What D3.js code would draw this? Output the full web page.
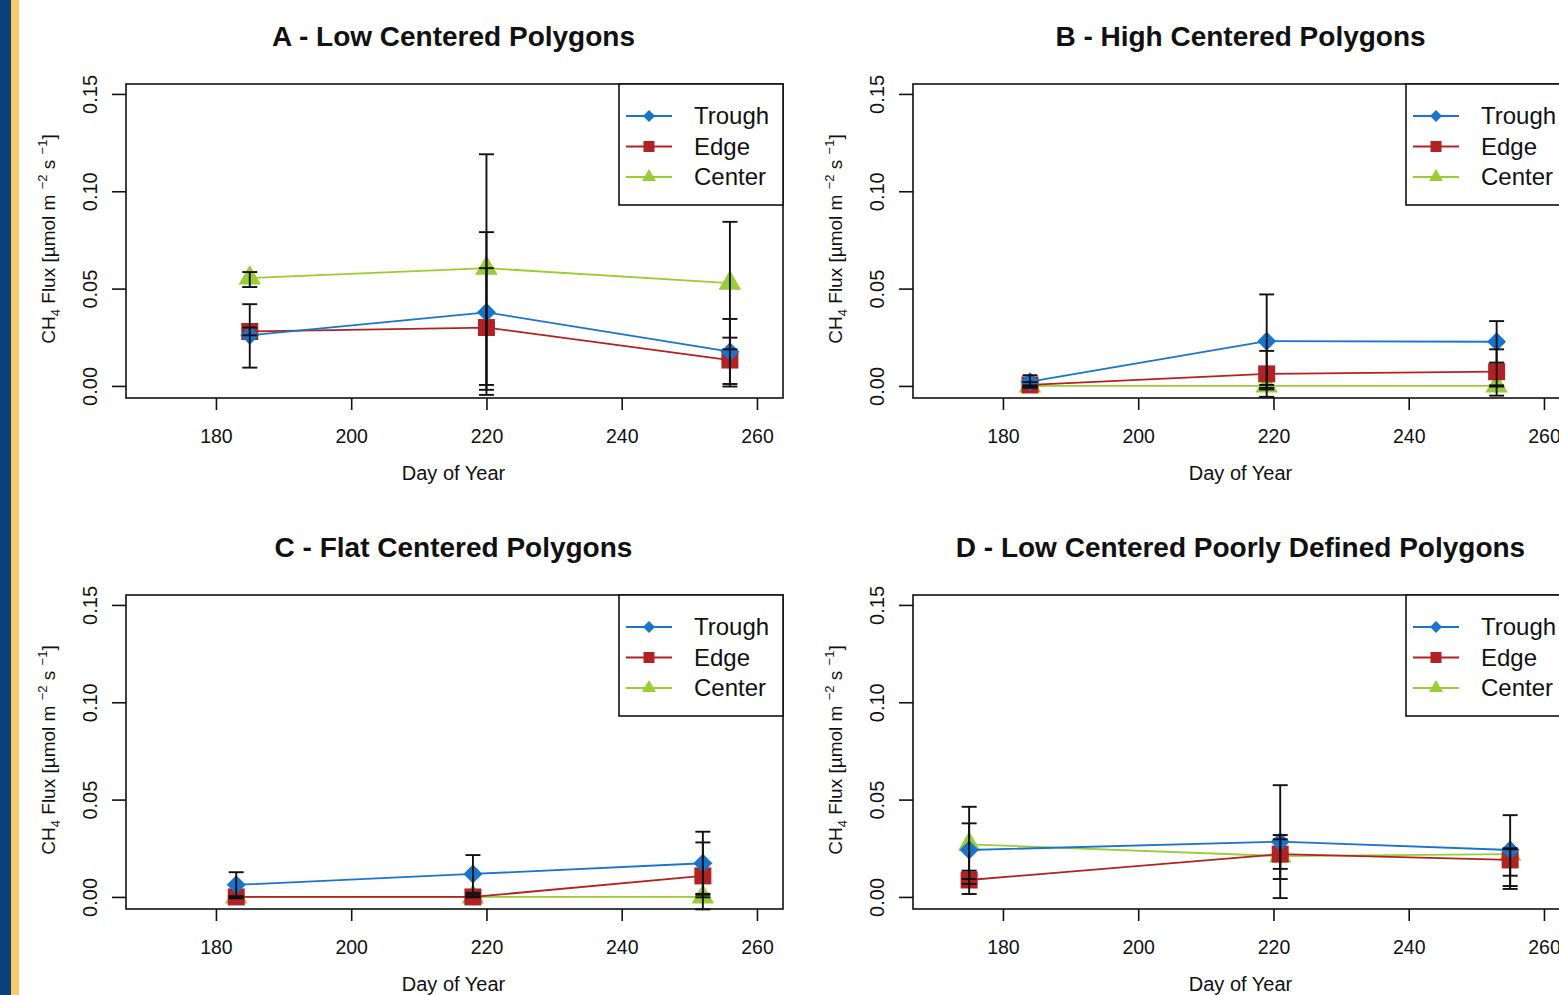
<!DOCTYPE html>
<html lang="en">
<head>
<meta charset="UTF-8">
<title>CH4 Flux by polygon type</title>
<script src="https://cdn.jsdelivr.net/npm/d3@7/dist/d3.min.js"></script>
<style>
  body { margin: 0; background: #fff; }
  svg { display: block; }
  text { font-family: "Liberation Sans", Arial, sans-serif; fill: #111; }
</style>
</head>
<body>
<script>
// ---- data ----
var panelTitles = ["A - Low Centered Polygons", "B - High Centered Polygons",
                   "C - Flat Centered Polygons", "D - Low Centered Poorly Defined Polygons"];
var seriesNames = ["Trough", "Edge", "Center"];
var days = [[185, 220, 256], [184, 219, 253], [183, 218, 252], [175, 221, 255]];

var trough   = [[0.026, 0.0378, 0.0176], [0.0022, 0.023, 0.0227], [0.0062, 0.0118, 0.0173], [0.0241, 0.0284, 0.0241]];
var troughLo = [[0.0094, -0.002, -0.0003], [-0.0005, -0.001, 0.012], [-0.0007, 0.0021, 0.0011], [0.0092, -0.0006, 0.0056]];
var troughHi = [[0.042, 0.079, 0.0344], [0.0055, 0.047, 0.0333], [0.0127, 0.0215, 0.0335], [0.0378, 0.0574, 0.042]];

var edge   = [[0.028, 0.030, 0.0133], [0.0005, 0.0062, 0.0073], [0.0, 0.0, 0.0108], [0.0087, 0.022, 0.019]];
var edgeLo = [[0.026, 0.0005, 0.001], [-0.001, -0.0056, -0.005], [-0.0003, 0.0, -0.0064], [0.0015, 0.0092, 0.0109]];
var edgeHi = [[0.030, 0.0605, 0.0248], [0.002, 0.018, 0.0188], [0.0003, 0.0012, 0.028], [0.0135, 0.0318, 0.025]];

var center   = [[0.0554, 0.0605, 0.0528], [0.0, 0.0, 0.0], [0.0, 0.0, 0.0], [0.027, 0.021, 0.022]];
var centerLo = [[0.0508, -0.0046, 0.0188], [-0.0003, -0.0018, -0.0003], [-0.0002, -0.0002, -0.0002], [0.0067, 0.0144, 0.0041]];
var centerHi = [[0.0585, 0.119, 0.0843], [0.0003, 0.0005, 0.0003], [0.0002, 0.0002, 0.0016], [0.0463, 0.0296, 0.0245]];

var xTicks = [180, 200, 220, 240, 260];
var yTicks = [0, 0.05, 0.10, 0.15];
var yTickLabels = ["0.00", "0.05", "0.10", "0.15"];

var colors = {Trough: "#1874cd", Edge: "#b22222", Center: "#9acd32"};
var shapes = {Trough: "diamond", Edge: "square", Center: "triangle"};

// ---- layout ----
var width = 1559, height = 995;
var origins = [[0, 0], [787, 0], [0, 511], [787, 511]];
var box = {left: 126, right: 783, top: 84, bottom: 398};

var svg = d3.select("body").append("svg").attr("width", width).attr("height", height);
svg.append("rect").attr("width", width).attr("height", height).attr("fill", "#fff");

// side strip
svg.append("rect").attr("x", 0).attr("y", 0).attr("width", 11).attr("height", height).attr("fill", "#07417e");
svg.append("rect").attr("x", 11).attr("y", 0).attr("width", 8).attr("height", height).attr("fill", "#fdc962");

function marker(shape, cx, cy, s) {
  if (shape == "square") {
    return "M" + (cx - s) + "," + (cy - s) + "h" + 2 * s + "v" + 2 * s + "h" + (-2 * s) + "Z";
  }
  if (shape == "diamond") {
    return "M" + cx + "," + (cy - s) + "L" + (cx + s) + "," + cy + "L" + cx + "," + (cy + s) + "L" + (cx - s) + "," + cy + "Z";
  }
  // R style triangle, centroid on the point
  var xc = s * Math.sqrt(3) / 2;
  return "M" + cx + "," + (cy - s) + "L" + (cx + xc) + "," + (cy + s / 2) + "L" + (cx - xc) + "," + (cy + s / 2) + "Z";
}
var markerSize = {square: 8.5, diamond: 9.5, triangle: 13};
var legendSize = {square: 5.5, diamond: 6, triangle: 8};

panelTitles.forEach(function (title, p) {
  var g = svg.append("g").attr("transform", "translate(" + origins[p][0] + "," + origins[p][1] + ")");

  var x = d3.scaleLinear().domain([166.7, 263.85]).range([box.left, box.right]);
  var y = d3.scaleLinear().domain([-0.0062, 0.1551]).range([box.bottom, box.top]);

  // title
  g.append("text").attr("x", (box.left + box.right) / 2 - 1).attr("y", 46)
    .attr("text-anchor", "middle").attr("font-weight", "bold").attr("font-size", 28)
    .text(title);

  // x axis
  var xAxis = d3.axisBottom(x).tickValues(xTicks).tickSize(12).tickPadding(19);
  var gx = g.append("g").attr("transform", "translate(0," + box.bottom + ")").call(xAxis);
  gx.select(".domain").remove();
  gx.selectAll(".tick line").attr("stroke", "#111").attr("stroke-width", 1.6);
  gx.selectAll(".tick text").attr("font-size", 19.5).attr("fill", "#111")
    .attr("font-family", "Liberation Sans, Arial, sans-serif");

  // y axis, labels parallel to axis like R
  var yAxis = d3.axisLeft(y).tickValues(yTicks).tickSize(14)
    .tickFormat(function (d, i) { return yTickLabels[i]; });
  var gy = g.append("g").attr("transform", "translate(" + box.left + ",0)").call(yAxis);
  gy.select(".domain").remove();
  gy.selectAll(".tick line").attr("stroke", "#111").attr("stroke-width", 1.6);
  gy.selectAll(".tick text")
    .attr("x", 0).attr("dy", 0).attr("text-anchor", "middle")
    .attr("transform", "translate(-29,0) rotate(-90)")
    .attr("font-size", 20).attr("fill", "#111")
    .attr("font-family", "Liberation Sans, Arial, sans-serif");

  // axis titles
  g.append("text").attr("x", (box.left + box.right) / 2 - 1).attr("y", 480)
    .attr("text-anchor", "middle").attr("font-size", 20).text("Day of Year");

  var yl = g.append("text").attr("transform", "translate(55,239) rotate(-90)")
    .attr("text-anchor", "middle").attr("font-size", 19);
  yl.append("tspan").text("CH");
  yl.append("tspan").attr("dy", 5).attr("font-size", 13).text("4");
  yl.append("tspan").attr("dy", -5).text(" Flux [\u00b5mol m ");
  yl.append("tspan").attr("dy", -8).attr("font-size", 13).text("\u22122");
  yl.append("tspan").attr("dy", 8).text(" s ");
  yl.append("tspan").attr("dy", -8).attr("font-size", 13).text("\u22121");
  yl.append("tspan").attr("dy", 8).text("]");

  // series
  var data = {
    Trough: {v: trough[p], lo: troughLo[p], hi: troughHi[p]},
    Edge: {v: edge[p], lo: edgeLo[p], hi: edgeHi[p]},
    Center: {v: center[p], lo: centerLo[p], hi: centerHi[p]}
  };
  var line = d3.line().x(function (d) { return x(d.day); }).y(function (d) { return y(d.v); });

  ["Center", "Edge", "Trough"].forEach(function (name) {
    var pts = days[p].map(function (d, i) { return {day: d, v: data[name].v[i]}; });
    g.append("path").datum(pts).attr("d", line)
      .attr("fill", "none").attr("stroke", colors[name]).attr("stroke-width", 1.8);
    g.selectAll(".pt-" + name).data(pts).enter().append("path")
      .attr("d", function (d) { return marker(shapes[name], x(d.day), y(d.v), markerSize[shapes[name]]); })
      .attr("fill", colors[name]);
  });

  // error bars on top
  ["Center", "Edge", "Trough"].forEach(function (name) {
    days[p].forEach(function (d, i) {
      var cx = x(d), y1 = y(data[name].lo[i]), y2 = y(data[name].hi[i]);
      var eg = g.append("g").attr("stroke", "#111").attr("stroke-width", 1.9);
      eg.append("line").attr("x1", cx).attr("x2", cx).attr("y1", y1).attr("y2", y2);
      eg.append("line").attr("x1", cx - 7.5).attr("x2", cx + 7.5).attr("y1", y1).attr("y2", y1);
      eg.append("line").attr("x1", cx - 7.5).attr("x2", cx + 7.5).attr("y1", y2).attr("y2", y2);
    });
  });

  // plot box
  g.append("rect").attr("x", box.left).attr("y", box.top)
    .attr("width", box.right - box.left).attr("height", box.bottom - box.top)
    .attr("fill", "none").attr("stroke", "#111").attr("stroke-width", 1.6);

  // legend
  var lg = g.append("g");
  lg.append("rect").attr("x", 619).attr("y", box.top).attr("width", 164).attr("height", 121)
    .attr("fill", "#fff").attr("stroke", "#111").attr("stroke-width", 1.6);
  seriesNames.forEach(function (name, i) {
    var ry = 116 + i * 30.5;
    lg.append("line").attr("x1", 626).attr("x2", 672).attr("y1", ry).attr("y2", ry)
      .attr("stroke", colors[name]).attr("stroke-width", 1.8);
    lg.append("path").attr("d", marker(shapes[name], 649, ry, legendSize[shapes[name]]))
      .attr("fill", colors[name]);
    lg.append("text").attr("x", 694).attr("y", ry).attr("dy", "0.35em")
      .attr("font-size", 24).text(name);
  });
});
</script>
</body>
</html>
